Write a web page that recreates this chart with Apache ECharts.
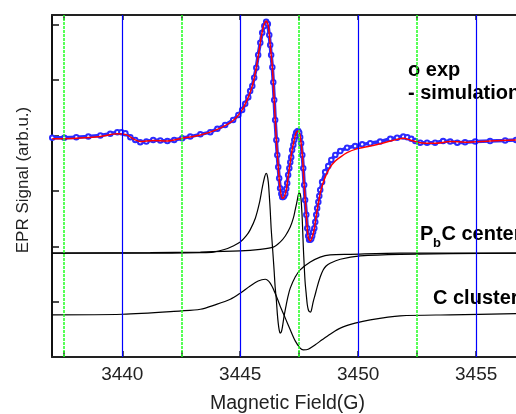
<!DOCTYPE html>
<html><head><meta charset="utf-8">
<script src="https://cdn.jsdelivr.net/npm/echarts@6/dist/echarts.min.js"></script>
<style>html,body{margin:0;padding:0;background:#fff}#c{width:516px;height:414px}</style>
</head><body><div id="c"></div>
<script>
// ---- data (magnetic field in G, signal in arb. units) ----
const majorTicks = [3440, 3445, 3450, 3455];
const minorTicks = [3437.5, 3442.5, 3447.5, 3452.5];
const allXTicks = [3437.5, 3440, 3442.5, 3445, 3447.5, 3450, 3452.5, 3455];
const yTicks = [0, 1, 2, 3, 4, 5];

const expData = [[3437.03,2.96],[3437.54,2.96],[3438.05,2.97],[3438.56,2.98],[3439.07,3.00],[3439.49,3.03],[3439.79,3.06],[3439.96,3.06],[3440.13,3.04],[3440.34,2.97],[3440.55,2.92],[3440.76,2.88],[3441.02,2.89],[3441.31,2.92],[3441.61,2.91],[3441.91,2.90],[3442.20,2.92],[3442.54,2.95],[3442.88,2.98],[3443.31,3.02],[3443.73,3.06],[3444.03,3.12],[3444.36,3.19],[3444.70,3.28],[3444.92,3.37],[3445.08,3.46],[3445.21,3.57],[3445.34,3.69],[3445.42,3.80],[3445.51,3.89],[3445.59,4.04],[3445.68,4.22],[3445.76,4.45],[3445.85,4.67],[3445.93,4.85],[3446.02,4.97],[3446.10,5.05],[3446.17,5.01],[3446.23,4.81],[3446.27,4.63],[3446.31,4.45],[3446.36,4.23],[3446.40,3.96],[3446.44,3.64],[3446.48,3.28],[3446.53,2.92],[3446.57,2.65],[3446.61,2.43],[3446.65,2.23],[3446.69,2.05],[3446.74,1.95],[3446.78,1.89],[3446.82,1.89],[3446.86,1.91],[3446.91,1.95],[3446.95,2.04],[3446.99,2.14],[3447.03,2.29],[3447.08,2.41],[3447.12,2.52],[3447.16,2.61],[3447.20,2.74],[3447.25,2.83],[3447.29,2.92],[3447.33,2.99],[3447.37,3.05],[3447.42,3.07],[3447.46,3.08],[3447.50,3.05],[3447.54,2.97],[3447.58,2.86],[3447.63,2.65],[3447.67,2.41],[3447.71,2.11],[3447.75,1.84],[3447.80,1.57],[3447.84,1.33],[3447.88,1.19],[3447.92,1.12],[3447.97,1.12],[3448.01,1.14],[3448.05,1.19],[3448.09,1.26],[3448.14,1.33],[3448.18,1.44],[3448.22,1.57],[3448.26,1.69],[3448.31,1.80],[3448.35,1.91],[3448.39,2.02],[3448.47,2.16],[3448.60,2.34],[3448.73,2.45],[3448.86,2.56],[3449.03,2.65],[3449.24,2.72],[3449.53,2.78],[3449.87,2.81],[3450.17,2.84],[3450.51,2.86],[3450.93,2.89],[3451.36,2.94],[3451.65,2.96],[3451.91,2.98],[3452.08,2.97],[3452.25,2.94],[3452.42,2.90],[3452.63,2.87],[3452.92,2.87],[3453.26,2.87],[3453.60,2.90],[3453.90,2.89],[3454.20,2.87],[3454.53,2.88],[3454.96,2.89],[3455.59,2.90],[3456.23,2.91],[3456.69,2.92]];

const simData = [[3437.03,2.94],[3438.05,2.95],[3439.07,2.98],[3439.79,3.03],[3440.13,3.02],[3440.55,2.92],[3440.76,2.89],[3441.31,2.91],[3441.91,2.90],[3442.54,2.95],[3443.31,3.01],[3444.03,3.11],[3444.70,3.27],[3445.08,3.46],[3445.34,3.69],[3445.51,3.89],[3445.68,4.22],[3445.85,4.67],[3445.97,4.94],[3446.10,5.06],[3446.19,4.97],[3446.27,4.63],[3446.36,4.23],[3446.44,3.64],[3446.53,2.92],[3446.61,2.43],[3446.69,2.05],[3446.78,1.87],[3446.86,1.89],[3446.95,2.02],[3447.03,2.27],[3447.12,2.52],[3447.20,2.74],[3447.29,2.92],[3447.37,3.05],[3447.46,3.08],[3447.54,2.99],[3447.63,2.65],[3447.71,2.11],[3447.80,1.57],[3447.88,1.17],[3447.97,1.10],[3448.05,1.17],[3448.14,1.32],[3448.22,1.55],[3448.31,1.78],[3448.39,1.96],[3448.47,2.09],[3448.60,2.25],[3448.81,2.43],[3449.03,2.54],[3449.24,2.61],[3449.53,2.69],[3449.87,2.75],[3450.51,2.81],[3450.93,2.85],[3451.36,2.90],[3451.65,2.93],[3451.91,2.95],[3452.20,2.92],[3452.63,2.87],[3453.26,2.86],[3453.90,2.89],[3454.53,2.88],[3455.59,2.90],[3456.69,2.92]];

const pbcLine1 = [[3437.03,0.88],[3441.19,0.88],[3443.31,0.89],[3443.86,0.90],[3444.36,0.95],[3444.70,1.01],[3445.00,1.08],[3445.25,1.19],[3445.42,1.30],[3445.64,1.51],[3445.81,1.78],[3445.93,2.05],[3446.02,2.23],[3446.10,2.32],[3446.14,2.29],[3446.19,2.16],[3446.23,1.93],[3446.27,1.66],[3446.31,1.33],[3446.36,1.03],[3446.40,0.79],[3446.44,0.54],[3446.48,0.27],[3446.53,0.04],[3446.57,-0.20],[3446.61,-0.38],[3446.65,-0.50],[3446.69,-0.56],[3446.74,-0.54],[3446.78,-0.47],[3446.86,-0.25],[3446.95,-0.05],[3447.03,0.11],[3447.12,0.25],[3447.33,0.45],[3447.54,0.58],[3447.97,0.72],[3448.39,0.81],[3448.81,0.85],[3449.66,0.86],[3451.78,0.88],[3456.69,0.88]];

const pbcLine2 = [[3437.03,0.88],[3441.19,0.89],[3443.31,0.90],[3445.00,0.92],[3445.85,0.95],[3446.40,0.99],[3446.69,1.08],[3446.91,1.19],[3447.12,1.35],[3447.25,1.51],[3447.33,1.66],[3447.42,1.84],[3447.46,1.93],[3447.50,1.96],[3447.54,1.95],[3447.58,1.84],[3447.63,1.48],[3447.67,1.03],[3447.71,0.67],[3447.75,0.36],[3447.80,0.13],[3447.84,-0.04],[3447.88,-0.13],[3447.92,-0.17],[3447.97,-0.18],[3448.01,-0.16],[3448.09,0.00],[3448.18,0.14],[3448.26,0.27],[3448.39,0.45],[3448.52,0.58],[3448.64,0.65],[3448.81,0.70],[3449.24,0.77],[3450.08,0.83],[3451.78,0.86],[3456.69,0.88]];

const cCluster = [[3437.03,-0.23],[3440.00,-0.22],[3442.50,-0.16],[3443.31,-0.13],[3443.94,-0.05],[3444.58,0.05],[3445.00,0.16],[3445.42,0.29],[3445.76,0.38],[3446.06,0.41],[3446.27,0.34],[3446.48,0.16],[3446.69,-0.07],[3446.91,-0.29],[3447.12,-0.50],[3447.33,-0.70],[3447.54,-0.83],[3447.67,-0.86],[3447.88,-0.85],[3448.18,-0.77],[3448.47,-0.68],[3448.81,-0.58],[3449.24,-0.47],[3449.87,-0.38],[3450.51,-0.32],[3451.78,-0.25],[3453.90,-0.23],[3456.69,-0.21]];

// ---- chart ----
const FONT = "'Liberation Sans', Arial, Helvetica, sans-serif";
const chart = echarts.init(document.getElementById('c'), null, {renderer: 'canvas'});

const xBase = {
  type: 'value', min: 3437.02, max: 3456.69, gridIndex: 0,
  splitLine: {show: false},
  axisLine: {onZero: false, lineStyle: {color: '#222', width: 2}},
  axisTick: {inside: true, length: 6, customValues: allXTicks, lineStyle: {color: '#222', width: 1.5}}
};

const option = {
  animation: false,
  backgroundColor: '#fff',
  grid: {left: 52, top: 15, right: 0, height: 342, containLabel: false},
  xAxis: [
    Object.assign({}, xBase, {
      position: 'bottom',
      axisLabel: {customValues: majorTicks, formatter: v => String(v), fontFamily: FONT, fontSize: 19, color: '#222', margin: 8}
    }),
    Object.assign({}, xBase, {
      position: 'top',
      axisTick: {inside: true, length: 5, customValues: allXTicks, lineStyle: {color: '#222', width: 1.5}},
      axisLabel: {show: false}
    })
  ],
  yAxis: {
    type: 'value', min: -0.99, max: 5.17,
    splitLine: {show: false},
    axisLine: {onZero: false, lineStyle: {color: '#111', width: 2}},
    axisTick: {inside: true, length: 7, customValues: yTicks, lineStyle: {color: '#111', width: 1.5}},
    axisLabel: {show: false}
  },
  series: [
    {
      name: 'grid', type: 'line', data: [], z: 1, silent: true,
      markLine: {
        silent: true, symbol: 'none', label: {show: false}, animation: false,
        data: majorTicks.map(v => ({xAxis: v, lineStyle: {color: '#0000ff', width: 1.2, type: 'solid', opacity: 1}}))
          .concat(minorTicks.map(v => ({xAxis: v, lineStyle: {color: '#22ff22', width: 1.5, type: [3, 1], opacity: 1}})))
      }
    },
    {name: 'C cluster', type: 'line', data: cCluster, showSymbol: false, smooth: 0.3, z: 2,
      lineStyle: {color: '#000', width: 1.2}},
    {name: 'PbC center 1', type: 'line', data: pbcLine1, showSymbol: false, smooth: 0.3, z: 2,
      lineStyle: {color: '#000', width: 1.2}},
    {name: 'PbC center 2', type: 'line', data: pbcLine2, showSymbol: false, smooth: 0.3, z: 2,
      lineStyle: {color: '#000', width: 1.2}},
    {name: 'exp', type: 'line', data: expData, symbol: 'emptyCircle', symbolSize: 4.5, showAllSymbol: true, z: 3,
      lineStyle: {color: '#2b2bff', width: 3.5}, itemStyle: {color: '#2b2bff', borderWidth: 1.4}},
    {name: 'simulation', type: 'line', data: simData, showSymbol: false, smooth: 0.3, z: 4,
      lineStyle: {color: '#ff0000', width: 1.5}}
  ],
  graphic: [
    {type: 'text', x: 23, y: 180, rotation: Math.PI / 2,
      style: {text: 'EPR Signal (arb.u.)', x: 0, y: 0, align: 'center', verticalAlign: 'middle', font: '17px ' + FONT, fill: '#222'}},
    {type: 'text', x: 287.5, y: 404,
      style: {text: 'Magnetic Field(G)', x: 0, y: 0, align: 'center', verticalAlign: 'middle', font: '19.5px ' + FONT, fill: '#222'}},
    {type: 'text', x: 408, y: 70,
      style: {text: 'o exp', align: 'left', verticalAlign: 'middle', font: 'bold 20px ' + FONT, fill: '#000'}},
    {type: 'text', x: 408, y: 93,
      style: {text: '- simulation', align: 'left', verticalAlign: 'middle', font: 'bold 20px ' + FONT, fill: '#000'}},
    {type: 'text', x: 420, y: 234,
      style: {text: 'P', align: 'left', verticalAlign: 'middle', font: 'bold 20px ' + FONT, fill: '#000'}},
    {type: 'text', x: 433, y: 243,
      style: {text: 'b', align: 'left', verticalAlign: 'middle', font: 'bold 13px ' + FONT, fill: '#000'}},
    {type: 'text', x: 441.5, y: 234,
      style: {text: 'C center', align: 'left', verticalAlign: 'middle', font: 'bold 20px ' + FONT, fill: '#000'}},
    {type: 'text', x: 433, y: 298,
      style: {text: 'C cluster', align: 'left', verticalAlign: 'middle', font: 'bold 20px ' + FONT, fill: '#000'}}
  ]
};
chart.setOption(option);
</script>
</body></html>
